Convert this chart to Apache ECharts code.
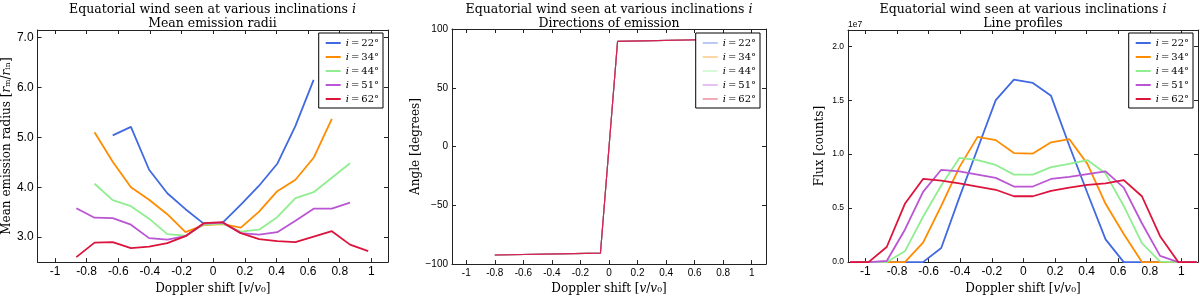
<!DOCTYPE html>
<html><head><meta charset="utf-8">
<script src="https://cdn.jsdelivr.net/npm/echarts@6/dist/echarts.min.js"></script>
<style>html,body{margin:0;padding:0;background:#fff}#c{width:1200px;height:300px}</style>
</head><body><div id="c"></div>
<script>
// ---------- data ----------
const inclinations = [22, 34, 44, 51, 62];
const xTicks = [-1, -0.8, -0.6, -0.4, -0.2, 0, 0.2, 0.4, 0.6, 0.8, 1];

// Panel 1: mean emission radii
const radiusX = [-0.98,-0.865,-0.75,-0.635,-0.52,-0.405,-0.29,-0.175,-0.06,0.06,0.175,0.29,0.405,0.52,0.635,0.75,0.865,0.98];
const radius22 = [null,null,null,5.04,5.21,4.35,3.88,3.56,3.27,3.29,3.65,4.03,4.47,5.23,6.15,null,null,null];
const radius34 = [null,null,5.10,4.51,4.00,3.75,3.46,3.10,3.24,3.26,3.19,3.51,3.92,4.15,4.59,5.37,null,null];
const radius44 = [null,null,4.07,3.74,3.62,3.37,3.06,3.03,3.25,3.27,3.11,3.15,3.40,3.78,3.90,4.19,4.48,null];
const radius51 = [null,3.58,3.39,3.38,3.25,2.98,2.95,3.02,3.27,3.29,3.08,3.05,3.10,3.33,3.57,3.57,3.69,null];
const radius62 = [null,2.60,2.89,2.90,2.78,2.81,2.88,3.02,3.28,3.30,3.08,2.96,2.92,2.90,3.01,3.12,2.85,2.72];
const radiusTicks = [3, 4, 5, 6, 7];

// Panel 2: directions of emission (all inclinations overlap)
const angleX = [-0.8, -0.06, 0.06, 0.8];
const angle22 = [-92.3, -90.7, 89.5, 91.3];
const angle34 = [-92.3, -90.7, 89.5, 91.3];
const angle44 = [-92.3, -90.7, 89.5, 91.3];
const angle51 = [-92.3, -90.7, 89.5, 91.3];
const angle62 = [-92.3, -90.7, 89.5, 91.3];
const angleTicks = [-100, -50, 0, 50, 100];

// Panel 3: line profiles (flux in units of 1e7 counts)
const fluxX = [-1.097,-0.98,-0.865,-0.75,-0.635,-0.52,-0.405,-0.29,-0.175,-0.06,0.06,0.175,0.29,0.405,0.52,0.635,0.75,0.865,0.98,1.097];
const flux22 = [0,0,0,0,0,0.13,0.60,1.05,1.50,1.69,1.66,1.54,1.08,0.64,0.21,0,0,0,0,0];
const flux34 = [0,0,0,0,0.18,0.52,0.88,1.16,1.13,1.01,1.005,1.11,1.14,0.91,0.54,0.26,0,0,0,0];
const flux44 = [0,0,0,0.10,0.42,0.71,0.965,0.945,0.90,0.81,0.81,0.88,0.91,0.945,0.82,0.52,0.175,0.005,0,0];
const flux51 = [0,0,0.01,0.30,0.65,0.855,0.84,0.81,0.78,0.70,0.70,0.77,0.79,0.815,0.84,0.69,0.36,0.058,0,0];
const flux62 = [0,0,0.14,0.54,0.77,0.755,0.73,0.70,0.67,0.61,0.61,0.66,0.69,0.715,0.73,0.76,0.61,0.24,0,0];
const fluxTicks = [0, 0.5, 1.0, 1.5, 2.0];

// ---------- style ----------
const colors = ['#4169e1', '#ff8c00', '#90ee90', '#ba55d3', '#dc143c'];
const SERIF = 'DejaVu Serif';
const SANS = 'Liberation Sans';
const INK = '#222';
const titleL1 = 'Equatorial wind seen at various inclinations {it|i}';
const subtitles = ['Mean emission radii', 'Directions of emission', 'Line profiles'];
const titleCenters = [212.5, 609, 1023];

function pairs(xs, ys) {
  const out = [];
  xs.forEach((x, i) => { if (ys[i] !== null && ys[i] !== undefined) out.push([x, ys[i]]); });
  return out;
}
function fmtX(v) {
  if (v === 0) return '0';
  if (Number.isInteger(v)) return String(v);
  return v.toFixed(1);
}

const grids = [
  {left: 37, top: 30, width: 351, height: 238},
  {left: 452, top: 29, width: 314, height: 242},
  {left: 848, top: 30, width: 350, height: 238}
];

const xAxes = [], yAxes = [];
function addX(gi, min, max, labelSize, name) {
  const common = {type: 'value', gridIndex: gi, min: min, max: max,
    axisLine: {show: true, onZero: false, lineStyle: {color: INK, width: 1}},
    axisTick: {show: true, inside: true, length: 4, lineStyle: {color: INK}, customValues: xTicks},
    splitLine: {show: false}};
  xAxes.push(Object.assign({}, common, {position: 'bottom',
    axisLabel: {show: true, customValues: xTicks, formatter: fmtX, fontFamily: SANS, fontSize: labelSize, color: '#000', margin: 4},
    name: name, nameLocation: 'middle', nameGap: 15,
    nameTextStyle: {fontFamily: SERIF, fontSize: 12, color: '#000', rich: {it: {fontStyle: 'italic', fontFamily: SERIF, fontSize: 12}}}}));
  xAxes.push(Object.assign({}, common, {position: 'top', axisLabel: {show: false}}));
}
function addY(gi, min, max, ticks, fmt, labelSize, name, gap) {
  const common = {type: 'value', gridIndex: gi, min: min, max: max,
    axisLine: {show: true, onZero: false, lineStyle: {color: INK, width: 1}},
    axisTick: {show: true, inside: true, length: 4, lineStyle: {color: INK}, customValues: ticks},
    splitLine: {show: false}};
  yAxes.push(Object.assign({}, common, {position: 'left',
    axisLabel: {show: true, customValues: ticks, formatter: fmt, fontFamily: SANS, fontSize: labelSize, color: '#000', margin: 4},
    name: name, nameLocation: 'middle', nameGap: gap, nameRotate: 90,
    nameTextStyle: {fontFamily: SERIF, fontSize: 12, color: '#000', rich: {it: {fontStyle: 'italic', fontFamily: SERIF, fontSize: 12}}}}));
  yAxes.push(Object.assign({}, common, {position: 'right', axisLabel: {show: false}}));
}
const xName = 'Doppler shift [{it|v}/{it|v}₀]';
addX(0, -1.11, 1.105, 12, xName);
addY(0, 2.5, 7.15, radiusTicks, v => v.toFixed(1), 12, 'Mean emission radius [{it|r}ₘ/{it|r}ᵢₙ]', 23);
addX(1, -1.1, 1.1, 10, xName);
addY(1, -100, 100, angleTicks, v => (v < 0 ? '\u2212' + Math.abs(v) : String(v)), 10, 'Angle [degrees]', 28);
addX(2, -1.11, 1.105, 12, xName);
addY(2, 0, 2.15, fluxTicks, v => v.toFixed(1), 8.5, 'Flux [counts]', 22);

const radiusSets = [radius22, radius34, radius44, radius51, radius62];
const angleSets = [angle22, angle34, angle44, angle51, angle62];
const fluxSets = [flux22, flux34, flux44, flux51, flux62];

const series = [];
inclinations.forEach((inc, k) => {
  series.push({type: 'line', name: 'a' + inc, xAxisIndex: 0, yAxisIndex: 0, data: pairs(radiusX, radiusSets[k]),
    symbol: 'none', showSymbol: false, lineStyle: {color: colors[k], width: 1.8}, itemStyle: {color: colors[k]}});
});
inclinations.forEach((inc, k) => {
  series.push({type: 'line', name: 'm' + inc, xAxisIndex: 2, yAxisIndex: 2, data: pairs(angleX, angleSets[k]),
    symbol: 'none', showSymbol: false, lineStyle: {color: colors[k], width: 1.1, opacity: 0.85}, itemStyle: {color: colors[k], opacity: 0.6}});
});
inclinations.forEach((inc, k) => {
  series.push({type: 'line', name: 'a' + inc, xAxisIndex: 4, yAxisIndex: 4, data: pairs(fluxX, fluxSets[k]),
    symbol: 'none', showSymbol: false, lineStyle: {color: colors[k], width: 1.8}, itemStyle: {color: colors[k]}});
});

function legend(prefix, right, lineH) {
  return {
    data: inclinations.map(i => ({name: prefix + i, icon: 'rect'})),
    orient: 'vertical', top: 33, right: right,
    backgroundColor: '#fff', borderColor: '#000', borderWidth: 1, borderRadius: 0,
    padding: [3, 4, 2, 7], itemGap: 0, itemWidth: 15, itemHeight: lineH, itemTextGap: 11,
    formatter: n => '{it|i}\u2009=\u2009' + n.slice(1) + '°',
    textStyle: {fontFamily: SERIF, fontSize: 10, color: '#000', lineHeight: 14,
      rich: {it: {fontStyle: 'italic', fontFamily: SERIF, fontSize: 10, lineHeight: 14}}}
  };
}

const titles = [];
titleCenters.forEach((cx, k) => {
  titles.push({text: titleL1, left: cx, top: 2.5, textAlign: 'center', padding: 0,
    textStyle: {fontFamily: SERIF, fontSize: 12.5, fontWeight: 'normal', color: '#000', lineHeight: 14,
      rich: {it: {fontStyle: 'italic', fontFamily: SERIF, fontSize: 12.5, lineHeight: 14}}}});
  titles.push({text: subtitles[k], left: cx, top: 17, textAlign: 'center', padding: 0,
    textStyle: {fontFamily: SERIF, fontSize: 12.5, fontWeight: 'normal', color: '#000', lineHeight: 14}});
});

const chart = echarts.init(document.getElementById('c'), null, {renderer: 'canvas'});
chart.setOption({
  animation: false,
  backgroundColor: '#fff',
  title: titles,
  grid: grids,
  xAxis: xAxes,
  yAxis: yAxes,
  legend: [legend('a', 817, 2), legend('m', 440, 1.2), legend('a', 7, 2)],
  graphic: [{type: 'text', left: 848, top: 20, style: {text: '1e7', font: '8.5px "Liberation Sans"', fill: '#000'}}],
  series: series
});
</script></body></html>
